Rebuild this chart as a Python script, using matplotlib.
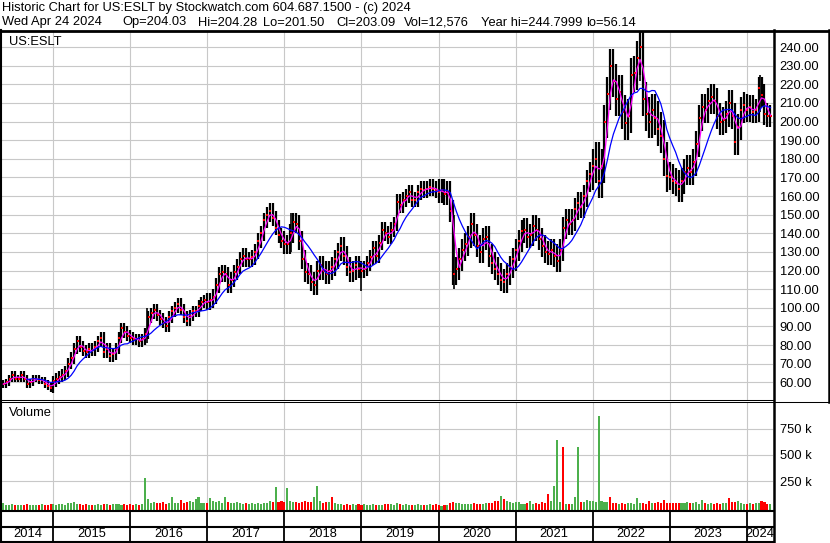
import numpy as np
import pandas as pd
import matplotlib
matplotlib.use('Agg')
import matplotlib.pyplot as plt
from matplotlib.lines import Line2D

plt.rcParams['font.family'] = ['Liberation Sans', 'DejaVu Sans']

# Годы и число двухнедельных отсчётов в каждом
years = [2014, 2015, 2016, 2017, 2018, 2019, 2020, 2021, 2022, 2023, 2024]
n_per_year = [17, 26, 26, 26, 26, 26, 26, 26, 26, 26, 9]
first_t = 2014.35  # данные начинаются в мае 2014

# Цена закрытия (USD), раз в две недели
close = [
    59, 60, 62, 64, 62, 62, 64, 62, 59, 60, 62, 62, 61, 61, 59, 58, 57,  # 2014
    60.5, 62, 63, 64, 66, 70, 73, 78, 82, 79, 77, 76, 78, 77, 79, 82, 84, 76, 78, 74, 75, 78, 84, 89, 87, 85,
    84, 83, 83, 82, 83, 86, 95, 97, 99, 96, 94, 92, 90, 95, 98, 100, 102, 99, 95, 93, 96, 98, 98, 101, 103, 104,
    103, 104, 106, 112, 118, 119, 118, 112, 115, 119, 122, 126, 128, 126, 126, 127, 130, 136, 140, 147, 150, 152, 148, 143, 139, 136,
    134, 134, 140, 146, 145, 136, 126, 119, 118, 114, 112, 120, 123, 120, 118, 120, 122, 126, 130, 133, 128, 122, 119, 120, 123, 121,
    120, 121, 124, 127, 132, 128, 135, 142, 140, 138, 142, 145, 157, 155, 158, 160, 162, 158, 158, 162, 164, 163, 164, 165, 164, 163,
    162, 163, 161, 162, 152, 118, 121, 126, 131, 134, 138, 145, 139, 133, 130, 137, 138, 128, 124, 121, 118, 115, 114, 118, 122, 126,
    131, 136, 141, 142, 138, 139, 144, 142, 137, 133, 130, 129, 131, 128, 125, 131, 143, 147, 145, 147, 153, 156, 154, 160, 168, 172,
    176, 180, 168, 176, 200, 215, 230, 222, 212, 216, 205, 199, 203, 225, 226, 234, 240, 212, 204, 200, 206, 202, 196, 192, 180, 171,
    170, 168, 167, 164, 168, 173, 175, 173, 178, 188, 202, 208, 206, 211, 213, 211, 203, 200, 201, 204, 210, 203, 189, 197, 206, 209,
    206, 208, 205, 206, 218, 214, 204, 203, 203,  # 2024
]

# Объём (тыс. акций), раз в две недели
vol = [
    40, 25, 20, 30, 20, 25, 20, 25, 30, 20, 25, 20, 25, 30, 20, 25, 35,  # 2014
    30, 25, 35, 30, 25, 40, 45, 50, 35, 30, 25, 30, 25, 20, 25, 30, 25, 30, 35, 25, 30, 35, 30, 25, 30, 25,
    30, 25, 30, 25, 35, 276, 77, 45, 50, 40, 45, 50, 35, 45, 100, 40, 45, 70, 45, 55, 60, 50, 80, 100, 45, 40,
    40, 93, 60, 55, 60, 45, 100, 50, 40, 45, 55, 40, 35, 40, 35, 40, 35, 40, 35, 45, 40, 60, 50, 190, 55, 60,
    55, 186, 60, 55, 50, 45, 55, 65, 50, 55, 100, 205, 60, 45, 50, 55, 100, 45, 35, 30, 25, 30, 25, 30, 25, 35,
    25, 30, 25, 20, 30, 25, 20, 25, 30, 35, 30, 25, 45, 30, 25, 30, 25, 20, 25, 30, 25, 20, 25, 30, 25, 35,
    20, 15, 20, 25, 45, 50, 45, 40, 35, 35, 30, 35, 40, 35, 30, 35, 40, 45, 40, 60, 65, 110, 75, 60, 55, 45,
    55, 50, 35, 30, 40, 60, 35, 40, 30, 55, 45, 125, 60, 205, 638, 50, 580, 35, 30, 35, 95, 580, 55, 50, 70, 65,
    60, 50, 868, 60, 55, 50, 100, 45, 40, 35, 40, 35, 40, 45, 35, 93, 40, 45, 35, 60, 45, 40, 55, 45, 70, 45,
    45, 40, 45, 40, 40, 45, 50, 45, 40, 55, 35, 70, 40, 35, 40, 35, 40, 35, 45, 40, 90, 55, 50, 65, 40, 35,
    35, 40, 30, 40, 45, 60, 50, 35, 30,  # 2024
]

# Цвет крупных столбиков объёма (год, номер отсчёта) -> цвет
vol_fix = {(2016, 5): 'g', (2017, 1): 'g', (2017, 6): 'g', (2017, 23): 'g',
           (2018, 1): 'g', (2018, 10): 'g', (2018, 11): 'g', (2018, 16): 'r',
           (2020, 21): 'g', (2021, 11): 'r', (2021, 13): 'g', (2021, 14): 'g',
           (2021, 16): 'r', (2021, 20): 'g', (2021, 21): 'g',
           (2022, 2): 'g', (2022, 6): 'r', (2022, 15): 'g', (2023, 20): 'r'}

# Типичный размах баров за год и отдельные выбросы
bar_rng = [4, 6, 6, 8, 10, 8, 12, 12, 18, 14, 12]
spike_t = [2016.21, 2018.09, 2018.99, 2020.20, 2022.61, 2024.17]
spike_lo = [81, 130, 109, 110, 222, 205]
spike_hi = [100, 151, 122, 150, 245, 225]

header1 = 'Historic Chart for US:ESLT by Stockwatch.com 604.687.1500 - (c) 2024'
header2 = ['Wed Apr 24 2024', 'Op=204.03', 'Hi=204.28', 'Lo=201.50', 'Cl=203.09',
           'Vol=12,576', 'Year hi=244.7999', 'lo=56.14']
header2_x = [2, 122, 198, 263, 336, 404, 481, 586]  # пиксели

# --- подготовка данных ---
starts = [first_t] + years[1:]
t = np.concatenate([s + np.arange(n) / 26 for s, n in zip(starts, n_per_year)])
df = pd.DataFrame({'t': t, 'close': close, 'vol': vol})
df['ma_fast'] = df['close'].rolling(3, min_periods=1).mean()
df['ma_slow'] = df['close'].rolling(9).mean()
prev = df['close'].shift(1).fillna(df['close'])
rng = np.repeat(bar_rng, n_per_year)
hi = np.maximum(prev, df['close']) + rng / 2
lo = np.minimum(prev, df['close']) - rng / 2

GREEN, RED = '#4cb04c', '#ff0000'
vcol = np.where(df['close'] >= prev, GREEN, RED).astype(object)
offsets = dict(zip(years, np.cumsum([0] + n_per_year[:-1])))
for (yr, k), c in vol_fix.items():
    vcol[offsets[yr] + k] = GREEN if c == 'g' else RED

W, H = 830, 543
XMIN, XMAX = 2014.334, 2024.345
GRID = '#c8c8c8'
FS = 9.3

fig = plt.figure(figsize=(W / 100, H / 100), dpi=100)
fig.patch.set_facecolor('white')


def box(x0, y0, x1, y1):
    # пиксели -> доли фигуры
    return [x0 / W, 1 - y1 / H, (x1 - x0) / W, (y1 - y0) / H]


ax = fig.add_axes(box(2, 31, 773.3, 399.5))
axv = fig.add_axes(box(2, 402, 773.3, 510.5))
axd = fig.add_axes(box(2, 510.5, 773.3, 541.5))

year_lines = years[1:]

# --- цена ---
ax.vlines(df['t'], lo, hi, color='black', lw=1.6, zorder=3)
ax.vlines(spike_t, spike_lo, spike_hi, color='black', lw=1.2, zorder=3)
ax.scatter(df['t'] + 0.008, df['close'], marker='s', s=3, color=RED, lw=0, zorder=4)
ax.plot(df['t'], df['ma_fast'], color='#ff00ff', lw=0.9, zorder=5)
ax.plot(df['t'], df['ma_slow'], color='#0000ff', lw=0.9, zorder=5)
ax.set_xlim(XMIN, XMAX)
ax.set_ylim(50.75, 248.6)
ax.set_xticks(year_lines)
ax.set_yticks(range(60, 250, 10))
ax.yaxis.set_major_formatter(lambda v, p: f'{v:.2f}')
ax.tick_params(axis='y', length=0, pad=4.5, labelsize=FS, labelright=True, labelleft=False)
ax.tick_params(axis='x', length=0, labelbottom=False)
ax.grid(True, color=GRID, lw=0.8, zorder=0)
ax.text(0.009, 0.97, 'US:ESLT', transform=ax.transAxes, fontsize=FS, va='center')

# --- объём ---
axv.bar(df['t'], df['vol'] + 30, bottom=-30, width=0.7 / 26, color=vcol, lw=0, zorder=3)
axv.set_xlim(XMIN, XMAX)
axv.set_ylim(-30, 1005)
axv.set_xticks(year_lines)
axv.set_yticks([250, 500, 750])
axv.yaxis.set_major_formatter(lambda v, p: f'{v:.0f} k')
axv.tick_params(axis='y', length=0, pad=4.5, labelsize=FS, labelright=True, labelleft=False)
axv.tick_params(axis='x', length=0, labelbottom=False)
axv.grid(True, color=GRID, lw=0.8, zorder=0)
axv.text(0.009, 0.9, 'Volume', transform=axv.transAxes, fontsize=FS, va='center')

# --- шкала дат ---
axd.set_xlim(XMIN, XMAX)
axd.set_ylim(0, 1)
axd.vlines(year_lines, 0, 1, color='black', lw=1.3)
for yr in years:
    a, b = max(yr, XMIN), min(yr + 1, XMAX)
    axd.text((a + b) / 2, 0.24, str(yr), ha='center', va='center', fontsize=FS)
axd.set_xticks([])
axd.set_yticks([])

for a in (ax, axv, axd):
    for s in a.spines.values():
        s.set_visible(False)


def line(x0, y0, x1, y1, lw):
    fig.add_artist(Line2D([x0 / W, x1 / W], [1 - y0 / H, 1 - y1 / H],
                          transform=fig.transFigure, color='black', lw=lw))


line(0, 30.5, 830, 30.5, 2.0)
line(1, 30, 1, 543, 1.5)
line(773.5, 30, 773.5, 543, 1.8)
line(828.5, 30, 828.5, 402, 1.8)
line(0, 399.5, 773, 399.5, 0.75)
line(0, 402, 828, 402, 0.75)
line(0, 510.5, 773, 510.5, 1.5)
line(0, 526.5, 773, 526.5, 1.5)
line(0, 541.8, 773, 541.8, 1.5)

# Заголовок: обе строки по базовой линии
fig.text(2 / W, 1 - 10.5 / H, header1, fontsize=FS, va='baseline')
for txt, x in zip(header2, header2_x):
    fig.text(x / W, 1 - 25.5 / H, txt, fontsize=FS, va='baseline')

fig.savefig('out.png', dpi=100, facecolor='white')
